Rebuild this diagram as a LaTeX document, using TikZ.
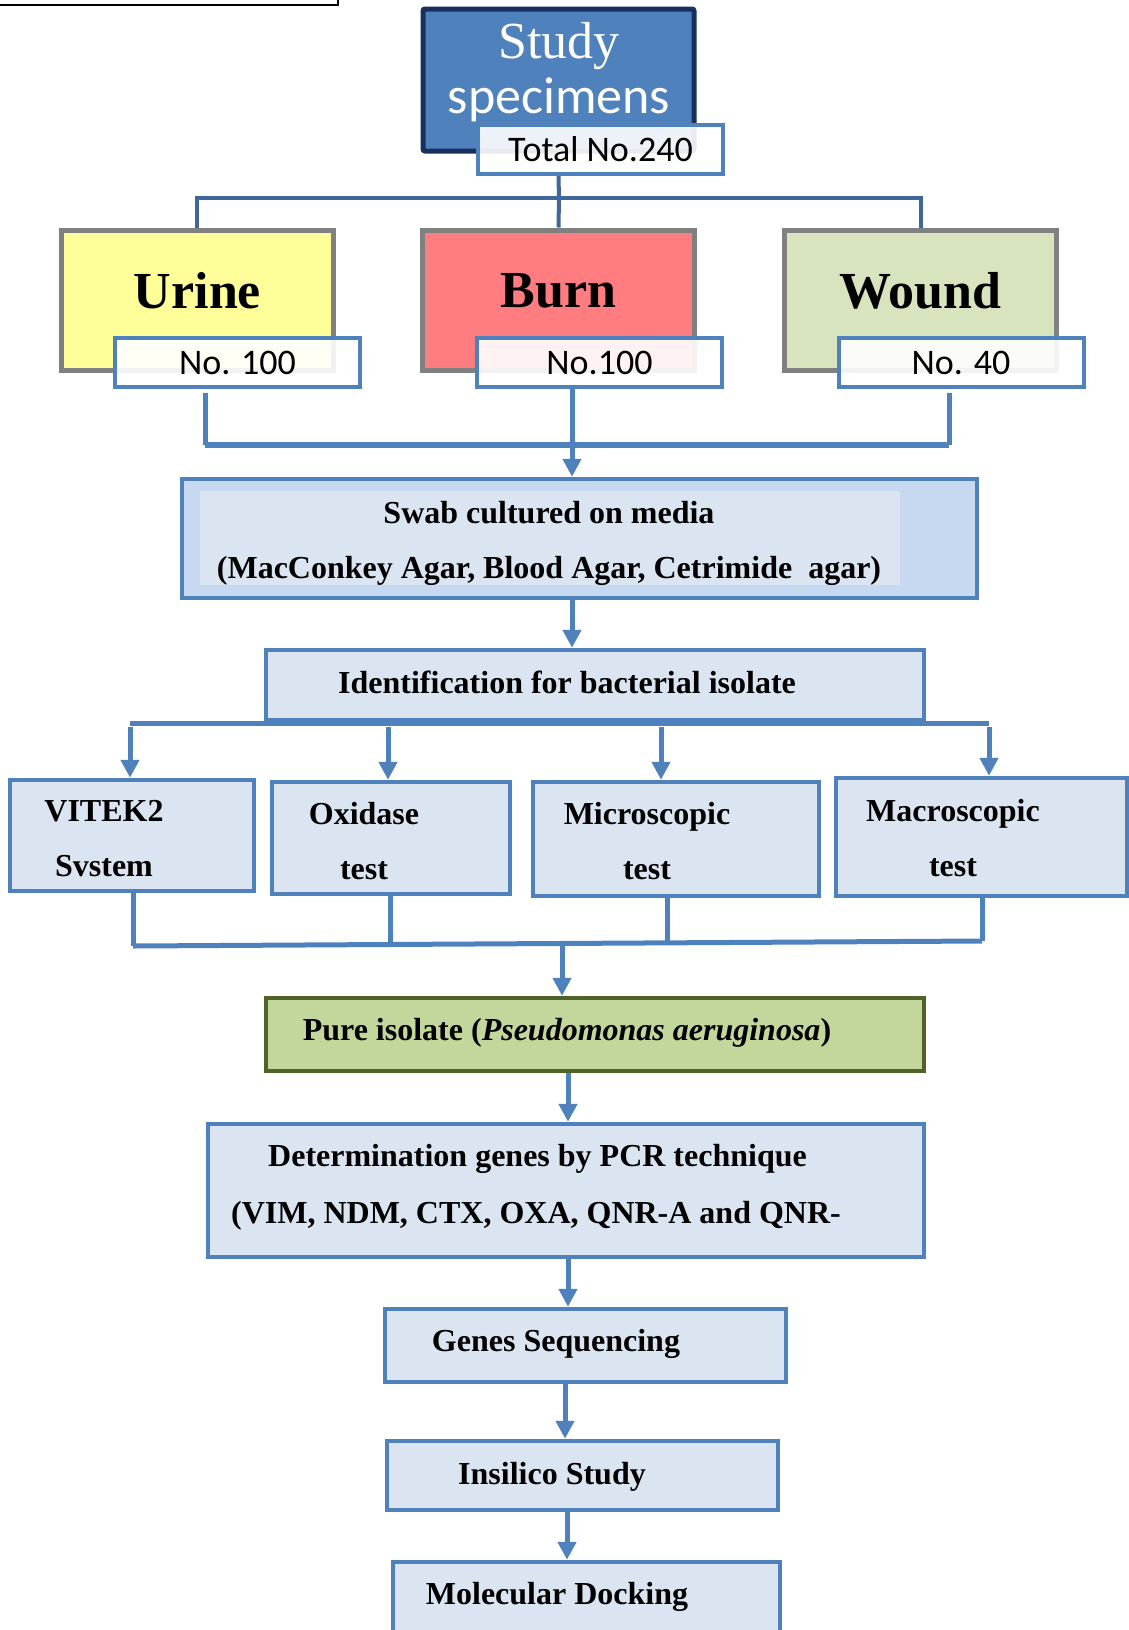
\documentclass[tikz,border=0pt]{standalone}
\usepackage{fontspec}
\setmainfont{Liberation Serif}
\newfontfamily\calibri{Carlito}
\usepackage{tikz}
\usetikzlibrary{calc,positioning,arrows.meta}
\definecolor{accent}{HTML}{4F81BD}
\definecolor{navy}{HTML}{17305E}
\definecolor{linkdark}{HTML}{41719C}
\definecolor{boxfill}{HTML}{DBE5F1}
\definecolor{swabfill}{HTML}{C6D9F1}
\definecolor{urinefill}{HTML}{FFFF99}
\definecolor{burnfill}{HTML}{FF7C80}
\definecolor{woundfill}{HTML}{D7E4BD}
\definecolor{purefill}{HTML}{C3D69B}
\definecolor{puredraw}{HTML}{4F6228}
\begin{document}
\begin{tikzpicture}[x=1pt,y=-1pt,
  box/.style={draw=accent,fill=boxfill,line width=4.5pt,rectangle,inner sep=0pt},
  src/.style={draw=gray,line width=5pt,rectangle,inner sep=0pt,minimum width=272pt,minimum height=140pt},
  cnt/.style={draw=accent,fill=white,fill opacity=.9,text opacity=1,line width=4pt,minimum width=245pt,minimum height=49pt,font=\calibri\fontsize{36}{40}\selectfont},
  txt/.style={font=\bfseries\fontsize{32}{55}\selectfont,align=center,inner sep=0pt},
  big/.style={font=\bfseries\fontsize{52}{60}\selectfont,inner sep=0pt},
  link/.style={accent,line width=5pt},
  flow/.style={link,-{Triangle[length=18pt,width=18pt]}}]
                      \useasboundingbox (0,0) rectangle (1129,1630);
                      \draw[line width=2pt,fill=white] (-10,-10) rectangle (338,5);

                      \node[draw=navy,fill=accent,line width=5pt,rounded corners=2pt,minimum width=271pt,minimum height=142pt] (study) at (558.5,80) {};
                      \node[text=white,font=\fontsize{52}{60}\selectfont,inner sep=0pt] (studyt) at (559,46) {Study};
                      \node[text=white,font=\calibri\fontsize{52}{60}\selectfont,inner sep=0pt] (spec) at (559,100) {specimens};
                      \node[cnt] (total) at (600.5,149.5) {Total No.240};

                      \node[src,fill=urinefill] (urine) at (197,300) {};
                      \node[src,fill=burnfill] (burn) at (558.5,300) {};
                      \node[src,fill=woundfill] (wound) at (920.5,300) {};
                      \node[big] (urinet) at (197.5,291) {Urine};
                      \node[big] (burnt) at (558.5,291) {Burn};
                      \node[big] (woundt) at (920.5,291) {Wound};
                      \node[cnt] (urineno) at (237.5,362.5) {No. 100};
                      \node[cnt] (burnno) at (599.5,362.5) {No.100};
                      \node[cnt] (woundno) at (961,362.5) {No. 40};

                      \coordinate (top) at (559,198);
                      \draw[accent!80!black,line width=4pt] (total.south -| study.south) -- (top);
                      \draw[accent!80!black,line width=4pt] (urine.north) |- (top) -| (wound.north);
                      \draw[accent!80!black,line width=4pt] (top) -- (burn.north);

                      \node[box,fill=swabfill,minimum width=795pt,minimum height=119pt] (swab) at (579.5,538.5) {};
                      \fill[boxfill] (200,491) rectangle (900,585);
                      \node[txt] (swabt) at (549,543) {Swab cultured on media\\(MacConkey Agar, Blood Agar, Cetrimide\ \ agar)};

                      \coordinate (ua) at (205,445);
                      \coordinate (wa) at (949,445);
                      \coordinate (mix) at (572,445);
                      \draw[link] ([yshift=-4pt]urineno.south -| ua) -- (ua);
                      \draw[link] ([yshift=-4pt]woundno.south -| wa) -- (wa);
                      \draw[link,line width=6pt] (ua) -- (wa);
                      \draw[flow] (burnno.south -| mix) -- (swab.north -| mix);

                      \node[box,minimum width=658pt,minimum height=70pt] (ident) at (595,685) {};
                      \node[txt] (identt) at (567,682) {Identification for bacterial isolate};
                      \draw[flow] (swab.south -| mix) -- (ident.north -| mix);

                      \node[box,minimum width=244pt,minimum height=111pt] (vitek) at (132,835.5) {};
                      \node[box,minimum width=238pt,minimum height=112pt] (oxi) at (391,838) {};
                      \node[box,minimum width=286pt,minimum height=114pt] (micro) at (676,839) {};
                      \node[box,minimum width=291pt,minimum height=118pt] (macro) at (981.5,837) {};
                      \node[txt] (vitekt) at (104,838.5) {VITEK2\\Svstem};
                      \node[txt] (oxit) at (364,841.5) {Oxidase\\test};
                      \node[txt] (microt) at (647,841.5) {Microscopic\\test};
                      \node[txt] (macrot) at (953,838) {Macroscopic\\test};

                      \coordinate (b1) at (130,723);
                      \coordinate (b2) at (388,723);
                      \coordinate (b3) at (661,723);
                      \coordinate (b4) at (989,723);
                      \draw[link] (b1) -- (b4);
                      \foreach \b/\n in {b1/vitek,b2/oxi,b3/micro,b4/macro}
                        \draw[flow] ([yshift=-4pt]\b) -- (\n.north -| \b);

                      \node[draw=puredraw,fill=purefill,line width=4.5pt,minimum width=658pt,minimum height=73pt] (pure) at (595,1034.5) {};
                      \node[txt] (puret) at (567,1033) {Pure isolate (\textit{Pseudomonas aeruginosa})};

                      \coordinate (c1) at (133,946);
                      \coordinate (c2) at (390,945);
                      \coordinate (c3) at (667,942);
                      \coordinate (c4) at (982,941);
                      \coordinate (c0) at (562,944);
                      \foreach \c/\n in {c1/vitek,c2/oxi,c3/micro,c4/macro}
                        \draw[link] (\n.south -| \c) -- (\c);
                      \draw[link] (c1) -- (c4);
                      \draw[flow] (c0) -- (pure.north -| c0);

                      \node[box,minimum width=716pt,minimum height=133pt] (det) at (566,1190.5) {};
                      \node[txt] (dett1) at (537.5,1159) {Determination genes by PCR technique};
                      \node[txt] (dett2) at (536,1216) {(VIM, NDM, CTX, OXA, QNR-A and QNR-};
                      \node[box,minimum width=401pt,minimum height=73pt] (genes) at (585.5,1345.5) {};
                      \node[txt] (genest) at (556,1344) {Genes Sequencing};
                      \node[box,minimum width=391pt,minimum height=69pt] (insilico) at (582.5,1475.5) {};
                      \node[txt] (insilicot) at (552,1477) {Insilico Study};
                      \node[box,minimum width=387pt,minimum height=80pt] (dock) at (586.5,1602) {};
                      \node[txt] (dockt) at (557,1597) {Molecular Docking};

                      \coordinate (d1) at (568,0);
                      \coordinate (d2) at (565,0);
                      \coordinate (d3) at (567,0);
                      \draw[flow] (pure.south -| d1) -- (det.north -| d1);
                      \draw[flow] (det.south -| d1) -- (genes.north -| d1);
                      \draw[flow] (genes.south -| d2) -- (insilico.north -| d2);
                      \draw[flow] (insilico.south -| d3) -- (dock.north -| d3);
                    \end{tikzpicture}
\end{document}
